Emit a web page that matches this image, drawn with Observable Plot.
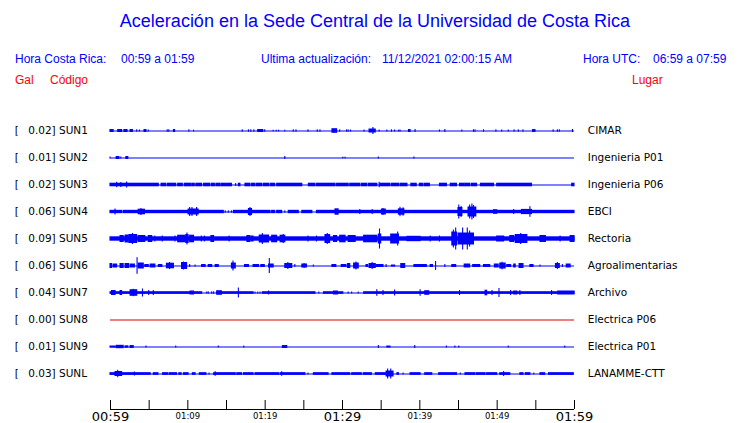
<!DOCTYPE html>
<html><head><meta charset="utf-8">
<script src="https://cdn.jsdelivr.net/npm/d3@7"></script>
<script src="https://cdn.jsdelivr.net/npm/@observablehq/plot@0.6"></script>
<style>
body{margin:0;width:740px;height:423px;overflow:hidden;background:#fff;position:relative;font-family:"Liberation Sans",Arial,sans-serif;}
.h{position:absolute;white-space:pre;line-height:1;}
.b{color:#0000ff;font-size:12px}
.r{color:#ff0000;font-size:12px}
#title{left:0;width:750px;text-align:center;top:12px;font-size:18px;color:#0000ff}
#chart{position:absolute;left:0;top:95px}
</style></head>
<body>
<div id="title" class="h">Aceleración en la Sede Central de la Universidad de Costa Rica</div>
<div class="h b" style="left:15px;top:53px">Hora Costa Rica:</div>
<div class="h b" style="left:121px;top:53px">00:59 a 01:59</div>
<div class="h b" style="left:261px;top:53px">Ultima actualización:</div>
<div class="h b" style="left:382px;top:53px">11/12/2021 02:00:15 AM</div>
<div class="h b" style="left:583px;top:53px">Hora UTC:</div>
<div class="h b" style="left:653px;top:53px">06:59 a 07:59</div>
<div class="h r" style="left:15px;top:74px">Gal</div>
<div class="h r" style="left:50px;top:74px">Código</div>
<div class="h r" style="left:632px;top:74px">Lugar</div>
<div id="chart"></div>
<script>
// ---- data ----
const codes = ["SUN1","SUN2","SUN3","SUN4","SUN5","SUN6","SUN7","SUN8","SUN9","SUNL"];
const gal = [0.02,0.01,0.02,0.06,0.09,0.06,0.04,0.00,0.01,0.03];
const places = ["CIMAR","Ingenieria P01","Ingenieria P06","EBCI","Rectoria","Agroalimentarias","Archivo","Electrica P06","Electrica P01","LANAMME-CTT"];
const tickMinutes = [0,5,10,15,20,25,30,35,40,45,50,55,60];
const majorLabels = [[0,"00:59"],[30,"01:29"],[60,"01:59"]];
const minorLabels = [[10,"01:09"],[20,"01:19"],[40,"01:39"],[50,"01:49"]];
const flatStations = ["SUN8"];

// envelope segments per station: [start minute, end minute, half amplitude]
const sun1 = [[0,0.4,1.5],[1.0,1.5,1.5],[1.8,2.2,1.5],[2.6,2.9,1.5],[3.45,3.45,1.2],[3.8,3.8,1],[4.4,4.65,1.5],[4.95,4.95,1],[7.4,7.4,1.2],[7.6,7.6,1.2],[8.2,8.35,1.5],[10.2,10.2,1.2],[10.8,10.8,0.8],[17.1,17.1,1.2],[17.9,17.9,1.2],[18.2,18.2,1.2],[18.6,18.6,1.2],[19.1,19.75,1.5],[20.0,20.0,1.2],[21.1,21.1,0.8],[21.5,21.5,0.8],[21.8,21.8,0.8],[22.6,22.6,0.8],[23.7,23.7,1.2],[24.05,24.05,1.2],[25.6,25.6,1.2],[26.8,26.8,1.2],[27.15,27.15,1.2],[28.7,29.3,2.3],[29.7,29.7,1.2],[30.6,30.6,1.2],[30.8,30.8,1],[31.1,31.1,1],[32.85,32.85,1],[33.5,34.3,2],[34.0,34.0,3.5],[34.8,34.8,1],[35.8,35.8,1],[36.4,36.4,1.2],[36.8,36.8,1],[37.3,37.3,0.8],[37.5,37.5,1],[38.6,38.8,1.5],[39.45,39.45,1.5],[42.6,42.6,1],[43.3,43.3,1.5],[45.5,45.5,1],[47.0,47.0,1.2],[47.2,47.2,1.2],[48.3,48.3,1.2],[49.9,49.9,1.2],[50.65,50.65,1],[51.5,51.5,1],[52.25,52.25,1.2],[52.8,52.8,1.2],[53.4,53.4,1.2],[54.65,54.95,1.5],[57.3,57.3,1.2],[57.85,57.85,1.2],[58.1,58.1,1.2],[59.8,59.8,1.5]];
const sun2 = [[0,0,1],[0.8,1.15,1.5],[1.4,1.4,1],[2.05,2.3,1.5],[22.6,22.6,1.5],[30.1,30.1,0.8],[30.4,30.4,0.8],[34.7,34.7,1],[39.3,39.3,1]];
const sun3 = [[0,6.25,1.8],[0.86,0.86,2.7],[1.4,1.4,2.5],[2.15,2.15,3],[6.6,7.2,1.8],[7.4,8.0,1.8],[8.1,8.5,1.8],[8.75,9.35,1.8],[9.6,9.9,1.8],[10.0,10.5,1.8],[10.65,10.9,1.8],[11.1,11.85,1.8],[12.1,12.9,1.8],[13.1,13.5,1.8],[13.7,14.2,1.8],[14.35,14.8,1.8],[14.95,15.7,1.8],[16.25,16.25,1.5],[16.6,16.8,1.8],[17.45,18.1,1.8],[18.3,18.75,1.8],[18.95,19.6,1.8],[19.8,20.5,1.8],[20.7,21.3,1.8],[21.55,24.8,1.8],[25.65,26.5,1.8],[26.7,29.1,1.8],[29.3,30.8,1.8],[31.0,32.3,1.8],[32.5,33.2,1.8],[33.4,34.5,1.8],[34.8,34.8,2.7],[34.9,36.2,1.8],[36.4,37.3,1.8],[37.5,38.4,1.8],[38.9,39.6,1.8],[40.0,40.4,1.8],[40.6,41.3,1.8],[42.6,43.5,1.8],[44.0,44.8,1.8],[45.2,45.8,1.8],[45.9,46.5,1.8],[46.7,47.4,1.8],[47.9,49.6,1.8],[50.0,54.5,1.8],[59.7,60,1.8]];
const sun4 = [[0,1.5,1.7],[1.7,14.65,1.7],[14.9,14.9,1.2],[15.3,15.3,1.2],[15.7,15.7,1.2],[15.95,20.7,1.7],[20.9,21.3,1.7],[21.55,22.2,1.7],[22.6,22.6,1.2],[23.05,24.35,1.7],[24.8,26.1,1.7],[26.7,60,1.7],[0.65,0.65,3],[3.65,4.45,2.8],[4.0,4.0,3.5],[10.1,11.4,3],[10.3,10.3,4.5],[10.6,10.6,4.5],[11.2,11.2,4.5],[17.9,18.3,3.5],[18.1,18.1,4.5],[29.1,29.5,3.2],[32.3,32.3,2.5],[33.9,33.9,2.5],[35.1,35.6,3],[35.3,35.3,3.5],[37.3,38.0,3.2],[37.5,37.5,4.7],[37.9,37.9,4.2],[45.0,45.5,4.5],[45.1,45.1,7],[45.4,45.4,5.5],[46.3,47.3,5],[46.5,46.5,7],[46.8,46.8,8],[47.0,47.0,6.5],[49.6,50.0,2.3],[52.2,52.2,2.5],[53.2,54.5,2.6],[54.3,54.3,5.3]];
const sun5 = [[0,60,2.2],[1.3,1.7,3.5],[1.95,2.35,4],[2.45,3.45,4.5],[2.9,2.9,5.5],[3.65,4.5,3.5],[4.95,5.4,3.5],[5.8,5.8,3],[6.75,6.75,3],[8.4,8.4,3],[8.75,9.7,3.8],[9.8,10.1,4.5],[9.95,9.95,6],[10.3,10.8,3.8],[11.8,11.8,3],[12.2,12.2,3],[13.05,13.4,3.5],[15.4,15.4,3],[17.7,18.1,3.5],[18.3,18.5,3],[19.3,20.5,4],[19.7,19.7,5.5],[20.9,21.55,3.8],[22,22.6,3.8],[22.4,22.4,4.5],[25.6,25.6,3],[26.7,26.7,3],[27.8,28.4,4.5],[28.1,28.1,5.5],[28.9,29.3,3.5],[29.7,30.4,3.8],[30.8,31.7,3.5],[32.8,34.5,3.8],[34.7,35.0,5],[34.85,34.85,10],[36.3,37.3,5],[37.2,37.2,7],[38.4,40.1,2.7],[41.4,41.4,3],[42.6,42.6,3],[44.2,44.8,7],[44.4,44.4,9],[44.7,44.7,11],[45,47,6],[45.6,45.6,11],[46.2,46.2,11],[46.5,46.5,8],[50.0,50.9,3],[51.7,52.2,3.5],[52.4,53.9,4.5],[53.1,53.1,5.5],[55.6,56.3,3.5],[58.2,58.2,3],[59.5,60,3.5]];
const sun6 = [[0,0.2,2.5],[0.4,0.85,2],[1.3,1.7,2.5],[1.95,2.4,2.5],[2.6,3.15,2],[3.5,3.5,8.3],[3.65,4.3,3],[4.5,4.95,1.5],[5.2,5.8,2],[6.25,6.7,1.5],[7.3,8.2,2.8],[7.7,7.7,3.5],[9.25,9.9,3.5],[9.5,9.5,4],[10.3,10.3,1.5],[11.0,11.0,1],[11.85,12.3,1.5],[12.7,13.15,1.5],[13.6,14.0,1.5],[15.7,16.2,3],[15.9,15.9,5],[17.4,17.9,1.5],[18.5,19.2,1.5],[19.5,19.95,1.5],[20.5,21.1,2],[20.6,20.6,7.5],[22.6,23.5,2.5],[23.0,23.0,3.5],[23.9,23.9,1.5],[24.8,25.4,2],[25.1,25.1,2.5],[26.3,26.3,1],[28.7,29.2,1.5],[29.9,30.5,1.5],[30.7,31.0,2.5],[31.5,32.1,3],[31.8,31.8,4],[33.1,33.3,1.5],[33.5,34.3,2.5],[33.9,33.9,3.5],[34.4,35.3,1.5],[35.7,35.7,1.5],[36.4,36.8,1],[37.6,38.1,2.5],[39.3,40.9,1.5],[41.4,41.7,1.5],[42.1,42.1,4.5],[43.3,43.3,1.5],[44.2,44.7,1.5],[45.8,46.5,2],[46.9,47.8,1.5],[48.3,49.1,1.5],[49.7,50.2,2],[50.4,51.1,3],[50.7,50.7,3.8],[51.3,51.8,1.5],[52.2,52.4,2],[52.9,53.4,2.5],[54.3,54.7,1.5],[55.6,55.6,1],[57.6,58.1,2.5],[57.85,57.85,3.5],[58.5,58.5,1.5],[59.0,59.5,2]];
const sun7 = [[0,11.85,1.3],[12.5,12.5,1],[12.7,12.7,1.2],[13.15,13.15,1.2],[13.4,13.4,1.2],[13.8,18.5,1.3],[18.75,18.75,1],[19.1,19.1,1],[19.4,19.4,1],[19.7,26.5,1.3],[27.0,27.0,1],[27.6,30.1,1.3],[30.8,30.8,1],[31.25,31.25,1],[32.1,32.1,1],[32.8,60,1.3],[0.2,0.65,2.5],[1.3,1.5,2.5],[2.6,3.45,3.3],[3.0,3.0,3.7],[4.2,4.2,4],[5.0,5.0,2.5],[5.6,5.6,2.5],[10.35,10.8,2],[13.8,14.4,2.3],[16.6,16.6,5],[20.5,20.5,2],[28.9,29.4,2],[34.5,34.5,3.3],[35.3,35.3,2.5],[36.8,36.8,3],[40.1,40.1,3.3],[40.7,41.2,2.3],[45.2,45.2,2.5],[48.5,48.7,2.8],[49.4,49.4,2.5],[50.3,50.3,4.5],[51.8,51.8,2.5],[52.2,52.6,2],[53.0,53.0,2.5],[57.1,57.1,2.5],[57.9,60,2]];
const sun8 = [];
const sun9 = [[0,0.65,1],[0.8,1.7,1.7],[1.95,2.3,1.2],[2.6,3.0,1.5],[4.65,4.65,1],[8.5,8.5,1],[14.0,14.0,1],[17.3,17.3,1],[22.3,22.85,1.5],[34.7,34.7,1.5],[35.8,36.2,1],[39.4,39.4,1.5],[43.5,43.5,1],[44.6,44.6,1],[45.1,45.1,1],[51.5,51.5,1],[58.8,58.8,1]];
const sunl = [[0,0.65,1.35],[0.65,1.5,2.5],[1.0,1.0,3.7],[1.5,5.2,1.35],[3.15,3.15,2],[5.6,6.2,1.35],[6.8,7.5,1.35],[7.7,8.6,1.35],[8.9,9.2,1.35],[9.5,10.1,1.35],[10.65,11.0,1.35],[11.55,12.4,1.35],[12.8,12.8,1],[13.4,16.2,1.35],[13.6,13.6,2.3],[16.4,17.0,1.35],[17.25,18.5,1.35],[18.75,21.8,1.35],[22.0,25.2,1.35],[22.2,22.2,2.3],[25.6,25.6,1],[26.3,28.2,1.35],[28.7,31.0,1.35],[31.25,32.5,1.35],[32.75,33.8,1.35],[34.3,35.6,1.35],[35.7,36.6,3],[35.9,35.9,5],[36.3,36.3,5],[37.1,37.3,1.35],[37.9,37.9,1],[38.8,40.1,1.35],[40.7,41.6,1.35],[42.5,44.8,1.35],[45.3,45.3,1],[45.9,47.2,1.35],[47.4,48.5,1.35],[48.7,50.0,1.35],[50.4,51.7,1.35],[50.9,50.9,2.5],[53.0,53.4,1.35],[53.7,54.3,1.35],[54.8,54.8,1],[55.6,56.2,1.35],[56.7,59.9,1.35]];
const traces = [sun1,sun2,sun3,sun4,sun5,sun6,sun7,sun8,sun9,sunl];

// ---- layout ----
const BLUE = "#0000ff", RED = "#dd0000";
const ROW = 27;          // trace spacing, amplitude units (≈ px)
const H = 328, MT = 22, MB = 14, TICK = 9;
const frameH = H - MT - MB;
const yTop = ROW / 2, yBottom = yTop - frameH;

const stations = codes.map((code, i) => ({code, gal: gal[i], place: places[i], base: -i * ROW}));
const segs = traces.flatMap((t, i) => t.map(([t1, t2, a]) => ({t1, t2, y1: -i * ROW - a, y2: -i * ROW + a})));

const chart = Plot.plot({
  width: 740, height: H,
  marginLeft: 110, marginRight: 166, marginTop: MT, marginBottom: MB,
  x: {domain: [0, 60], axis: null},
  y: {domain: [yBottom, yTop], axis: null},
  style: {fontFamily: "'DejaVu Sans', sans-serif", fontSize: "10.5px", background: "white", overflow: "visible"},
  marks: [
    Plot.ruleY(stations, {y: "base", stroke: d => flatStations.includes(d.code) ? RED : BLUE, strokeWidth: 1.1}),
    Plot.rect(segs, {x1: "t1", x2: "t2", y1: "y1", y2: "y2", fill: BLUE, insetLeft: -0.55, insetRight: -0.55}),
    Plot.text(stations, {y: "base", text: () => "[", frameAnchor: "left", dx: -95.7, textAnchor: "start", fill: "black"}),
    Plot.text(stations, {y: "base", text: d => `${d.gal.toFixed(2)}] ${d.code}`, frameAnchor: "left", dx: -82.3, textAnchor: "start", fill: "black"}),
    Plot.text(stations, {y: "base", text: "place", frameAnchor: "right", dx: 13.3, textAnchor: "start", fill: "black"}),
    Plot.ruleY([yBottom], {stroke: "black", strokeWidth: 1}),
    Plot.ruleX(tickMinutes, {x: d => d, y1: yBottom, y2: yBottom + TICK, stroke: "black", strokeWidth: 1}),
    Plot.text(majorLabels, {x: d => d[0], text: d => d[1], frameAnchor: "bottom", lineAnchor: "top", dy: 2, fontSize: 13, fill: "black"}),
    Plot.text(minorLabels, {x: d => d[0], text: d => d[1], frameAnchor: "bottom", lineAnchor: "top", dy: 3, fontSize: 8.5, fill: "black"})
  ]
});
document.getElementById("chart").appendChild(chart);
</script>
</body></html>
